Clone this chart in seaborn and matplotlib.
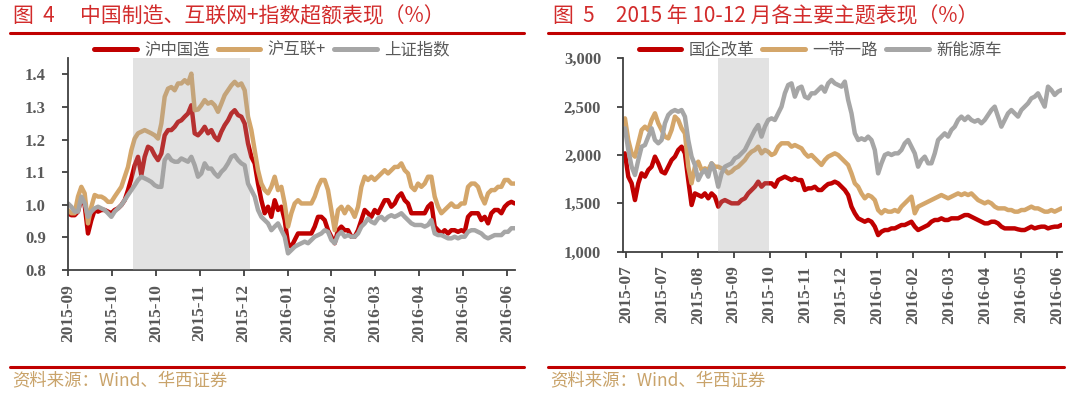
import numpy as np
import pandas as pd
import matplotlib
matplotlib.use("Agg")
import matplotlib.pyplot as plt
import seaborn as sns
from matplotlib.lines import Line2D
from matplotlib.ticker import FuncFormatter

# ── data ───────────────────────────────────────────────────────────────
FIG4_TICKS = ["2015-09", "2015-10", "2015-10", "2015-11", "2015-12", "2016-01",
              "2016-02", "2016-03", "2016-04", "2016-05", "2016-06"]
FIG5_TICKS = ["2015-07", "2015-07", "2015-08", "2015-09", "2015-10", "2015-11", "2015-12",
              "2016-01", "2016-02", "2016-03", "2016-04", "2016-05", "2016-06"]

# 图4 (daily, 2015-09 .. 2016-06)
HU_ZGZ = [0.974, 0.968, 0.968, 0.979, 1.019, 0.999, 0.912, 0.953, 0.984, 0.979,
          0.984, 0.984, 0.979, 0.974, 0.984, 0.989, 0.999, 1.014, 1.045, 1.081,
          1.121, 1.147, 1.091, 1.147, 1.178, 1.172, 1.152, 1.137, 1.157, 1.213,
          1.229, 1.229, 1.239, 1.254, 1.259, 1.270, 1.280, 1.305, 1.219, 1.213,
          1.224, 1.239, 1.219, 1.229, 1.208, 1.198, 1.224, 1.244, 1.259, 1.280,
          1.290, 1.275,
          1.270, 1.249, 1.188, 1.147, 1.127, 1.065, 1.014, 0.974, 0.994, 0.963,
          1.014, 0.984, 0.994, 0.953, 0.882, 0.871, 0.892, 0.912, 0.912, 0.912,
          0.912, 0.912, 0.933, 0.963, 0.963, 0.953, 0.922, 0.902, 0.882, 0.922,
          0.933, 0.922, 0.922, 0.902, 0.902, 0.922, 0.953, 0.984, 0.974, 0.963,
          0.984, 0.974, 0.994, 1.014, 1.014, 0.994, 1.004, 1.025, 1.035, 1.014,
          1.004, 0.974, 0.974, 0.974, 0.974, 0.974, 0.994, 1.004, 0.933, 0.922,
          0.912, 0.922, 0.912, 0.922, 0.922, 0.917, 0.922, 0.917, 0.963, 0.974,
          0.974, 0.974, 0.953, 0.963, 0.943, 0.974, 0.984, 0.984, 0.974, 0.994,
          1.004, 1.009, 1.004]
HU_HLW = [0.984, 0.974, 0.974, 1.025, 1.055, 1.035, 0.943, 0.994, 1.030, 1.025,
          1.025, 1.019, 1.009, 1.009, 1.025, 1.040, 1.055, 1.086, 1.116, 1.167,
          1.203, 1.219, 1.224, 1.229, 1.224, 1.219, 1.213, 1.203, 1.249, 1.331,
          1.356, 1.361, 1.351, 1.372, 1.372, 1.382, 1.372, 1.402, 1.290, 1.292,
          1.305, 1.321, 1.310, 1.315, 1.305, 1.285, 1.310, 1.336, 1.351, 1.366,
          1.377, 1.366,
          1.372, 1.351, 1.270, 1.229, 1.167, 1.106, 1.065, 1.045, 1.035, 1.055,
          1.086, 1.045, 1.055, 1.004, 0.933, 0.974, 1.004, 1.014, 1.004, 1.004,
          1.004, 1.004, 1.025, 1.055, 1.076, 1.076, 1.045, 0.984, 0.922, 0.984,
          0.994, 0.974, 0.994, 0.984, 0.963, 0.994, 1.055, 1.086, 1.076, 1.086,
          1.076, 1.086, 1.096, 1.106, 1.096, 1.106, 1.116, 1.116, 1.127, 1.106,
          1.096, 1.055, 1.045, 1.065, 1.055, 1.065, 1.086, 1.086, 1.025, 0.994,
          0.974, 0.984, 0.994, 1.004, 0.994, 0.994, 1.004, 1.004, 1.055, 1.065,
          1.065, 1.055, 1.025, 1.004, 1.035, 1.045, 1.045, 1.055, 1.055, 1.076,
          1.076, 1.065, 1.065]
SH_IDX = [1.004, 0.994, 0.979, 0.979, 1.025, 1.004, 0.963, 0.979, 0.989, 0.994,
          0.989, 0.984, 0.974, 0.963, 0.979, 0.989, 0.999, 1.014, 1.030, 1.045,
          1.060, 1.076, 1.086, 1.081, 1.076, 1.070, 1.060, 1.055, 1.055, 1.137,
          1.152, 1.137, 1.132, 1.132, 1.142, 1.137, 1.132, 1.147, 1.121, 1.086,
          1.096, 1.127, 1.111, 1.111, 1.096, 1.086, 1.101, 1.111, 1.127, 1.147,
          1.152, 1.137,
          1.127, 1.121, 1.065, 1.045, 1.025, 0.984, 0.963, 0.953, 0.943, 0.922,
          0.933, 0.943, 0.922, 0.902, 0.851, 0.861, 0.871, 0.877, 0.882, 0.887,
          0.882, 0.892, 0.902, 0.907, 0.912, 0.922, 0.917, 0.892, 0.882, 0.907,
          0.917, 0.902, 0.907, 0.902, 0.902, 0.912, 0.933, 0.943, 0.958, 0.948,
          0.943, 0.958, 0.963, 0.953, 0.963, 0.968, 0.963, 0.968, 0.974, 0.963,
          0.953, 0.943, 0.938, 0.938, 0.938, 0.933, 0.938, 0.953, 0.912, 0.907,
          0.907, 0.902, 0.897, 0.897, 0.902, 0.897, 0.902, 0.902, 0.917, 0.922,
          0.922, 0.917, 0.912, 0.902, 0.897, 0.902, 0.907, 0.907, 0.907, 0.917,
          0.917, 0.928, 0.928]

# 图5 (daily, 2015-07 .. 2016-06)
GQGG = [2017, 1776, 1707, 1534, 1707, 1810, 1776, 1845, 1879, 1983,
        1914, 1828, 1810, 1879, 1948, 1983, 2052, 2086, 2017, 1741,
        1483, 1603, 1586, 1569, 1603, 1552, 1603, 1569, 1466, 1517,
        1534, 1517, 1500, 1500, 1500, 1534, 1552, 1603, 1638, 1672,
        1724, 1672, 1707, 1707, 1707, 1672, 1741, 1759, 1776, 1759,
        1741, 1759, 1741,
        1741, 1638, 1655, 1655, 1672, 1638, 1638, 1672, 1700, 1707,
        1724, 1707, 1672, 1638, 1586, 1466, 1397, 1345, 1328, 1310,
        1328, 1310, 1259, 1172, 1207, 1224, 1224, 1241, 1241, 1259,
        1276, 1276, 1293, 1310, 1259, 1224, 1241, 1259, 1276, 1310,
        1328, 1328, 1345, 1328, 1328, 1345, 1345, 1345, 1362, 1379,
        1379, 1362, 1345, 1328, 1310, 1293, 1293, 1310, 1310, 1293,
        1259, 1241, 1241, 1241, 1241, 1231, 1224, 1224, 1241, 1259,
        1241, 1252, 1259, 1259, 1241, 1252, 1259, 1259, 1276]
YDYL = [2379, 2155, 2017, 1983, 2121, 2259, 2293, 2259, 2362, 2431,
        2328, 2259, 2190, 2172, 2259, 2397, 2362, 2276, 2224, 1879,
        1707, 1879, 1931, 1845, 1862, 1845, 1914, 1879, 1879, 1862,
        1845, 1810, 1828, 1862, 1879, 1914, 1948, 2000, 2034, 2052,
        2086, 2017, 2052, 2034, 2000, 2017, 2086, 2121, 2121, 2121,
        2086, 2103, 2086,
        2069, 2017, 1983, 2000, 1966, 1931, 1897, 1948, 1983, 2000,
        2017, 2000, 1966, 1931, 1897, 1810, 1707, 1672, 1603, 1552,
        1586, 1569, 1534, 1431, 1397, 1431, 1414, 1414, 1431, 1414,
        1466, 1500, 1534, 1569, 1397, 1466, 1483, 1500, 1517, 1534,
        1552, 1569, 1586, 1569, 1552, 1569, 1586, 1603, 1586, 1603,
        1586, 1603, 1569, 1534, 1517, 1500, 1517, 1500, 1466, 1448,
        1448, 1448, 1431, 1431, 1414, 1414, 1431, 1431, 1448, 1466,
        1448, 1448, 1431, 1414, 1414, 1431, 1414, 1431, 1448]
XNYC = [2276, 2052, 1879, 1793, 1948, 2086, 2103, 2190, 2276, 2155,
        2121, 2155, 2328, 2414, 2448, 2465, 2448, 2465, 2397, 2155,
        1983, 1897, 1741, 1810, 1845, 1776, 1914, 1828, 1672, 1810,
        1879, 1897, 1914, 1966, 1983, 2017, 2052, 2121, 2190, 2259,
        2310, 2190, 2293, 2362, 2379, 2362, 2431, 2500, 2638, 2724,
        2741, 2603, 2690,
        2707, 2603, 2586, 2638, 2638, 2672, 2707, 2655, 2741, 2776,
        2741, 2724, 2707, 2759, 2569, 2431, 2224, 2155, 2172, 2155,
        2190, 2155, 2052, 1810, 1914, 2000, 2017, 2000, 2017, 2017,
        2052, 2121, 2155, 2086, 2017, 1879, 1948, 1983, 1914, 1914,
        2017, 2155, 2190, 2224, 2190, 2259, 2293, 2362, 2397, 2362,
        2397, 2362, 2345, 2362, 2328, 2362, 2414, 2465, 2500, 2397,
        2293, 2362, 2431, 2465, 2431, 2397, 2465, 2500, 2534, 2586,
        2603, 2638, 2569, 2500, 2707, 2672, 2621, 2655, 2672]

# shaded windows, in trading-day index
FIG4_SHADE = (19.5, 54.5)
FIG5_SHADE = (28.0, 43.3)

assert len(HU_ZGZ) == len(HU_HLW) == len(SH_IDX)
assert len(GQGG) == len(YDYL) == len(XNYC)

RED = "#C00000"; TAN = "#D4A66A"; GRAY = "#A6A6A6"
TXT = "#595959"; AXC = "#404040"; TITLE_RED = "#D22B2B"; SRC = "#C9A36A"
CJK = ["Noto Sans CJK SC", "DejaVu Sans"]

sns.set_theme(style="white")
plt.rcParams["font.family"] = CJK

W, H = 1080, 394
fig = plt.figure(figsize=(W / 100, H / 100), dpi=100)
fig.patch.set_facecolor("white")


def px(x0, y_top, x1, y_bot):
    return [x0 / W, 1 - y_bot / H, (x1 - x0) / W, (y_bot - y_top) / H]


def long_frame(cols):
    df = pd.DataFrame(cols)
    df["day"] = np.arange(len(df))
    return df.melt(id_vars="day", var_name="series", value_name="value")


def style_axes(ax, ticks, labels):
    for side in ("top", "right"):
        ax.spines[side].set_visible(False)
    for side in ("left", "bottom"):
        ax.spines[side].set_color(AXC)
        ax.spines[side].set_linewidth(1.3)
    ax.set_xticks(ticks)
    ax.set_xticklabels(labels, rotation=90)
    ax.tick_params(axis="both", direction="out", length=4, width=1.3, color=AXC,
                   labelcolor=TXT, bottom=True, left=True)
    ax.tick_params(axis="y", pad=12)
    ax.tick_params(axis="x", pad=6)
    for t in ax.get_yticklabels():
        t.set_fontfamily("Liberation Serif"); t.set_fontweight("bold"); t.set_fontsize(12)
    for t in ax.get_xticklabels():
        t.set_fontfamily("Liberation Serif"); t.set_fontweight("bold"); t.set_fontsize(12.5)
    ax.set_xlabel(""); ax.set_ylabel("")
    ax.grid(False)


# ── 图4 ───────────────────────────────────────────────────────────────
ax1 = fig.add_axes(px(68, 58, 514.7, 270))
d4 = long_frame({"沪中国造": HU_ZGZ, "沪互联+": HU_HLW, "上证指数": SH_IDX})
sns.lineplot(data=d4, x="day", y="value", hue="series", estimator=None, sort=False,
             palette=[RED, TAN, GRAY], linewidth=3.2, ax=ax1)
ax1.axvspan(*FIG4_SHADE, color="#A0A0A0", alpha=0.3, lw=0, zorder=5)
ax1.set_xlim(0, len(HU_ZGZ) - 1)
ax1.set_ylim(0.8, 1.45)
ax1.set_yticks(np.arange(0.8, 1.41, 0.1))
ax1.yaxis.set_major_formatter(FuncFormatter(lambda v, _: f"{v:.1f}"))
h1, l1 = ax1.get_legend_handles_labels()
ax1.get_legend().remove()
style_axes(ax1, np.arange(len(FIG4_TICKS)) * 13.17, FIG4_TICKS)

# ── 图5 ───────────────────────────────────────────────────────────────
ax2 = fig.add_axes(px(623.3, 58.3, 1062, 251.7))
d5 = long_frame({"国企改革": GQGG, "一带一路": YDYL, "新能源车": XNYC})
sns.lineplot(data=d5, x="day", y="value", hue="series", estimator=None, sort=False,
             palette=[RED, TAN, GRAY], linewidth=3.2, ax=ax2)
ax2.axvspan(*FIG5_SHADE, color="#A0A0A0", alpha=0.3, lw=0, zorder=5)
ax2.set_xlim(-0.5, len(GQGG) - 0.8)
ax2.set_ylim(1000, 3000)
ax2.set_yticks(np.arange(1000, 3001, 500))
ax2.yaxis.set_major_formatter(FuncFormatter(lambda v, _: f"{v:,.0f}"))
h2, l2 = ax2.get_legend_handles_labels()
ax2.get_legend().remove()
style_axes(ax2, 0.3 + np.arange(len(FIG5_TICKS)) * 10.78, FIG5_TICKS)

# ── legends ───────────────────────────────────────────────────────────
for handles, labels, cx in ((h1, l1, 272), (h2, l2, 820)):
    for h in handles:
        h.set_linewidth(3.6)
    fig.legend(handles, labels, loc="center", bbox_to_anchor=(cx / W, 1 - 50 / H),
               ncol=3, frameon=False, handlelength=2.6,
               handletextpad=0.45, columnspacing=0.5, labelcolor=TXT,
               prop={"family": CJK, "size": 11.8})

# ── titles, rules, source ─────────────────────────────────────────────
ty = 1 - 16 / H
fig.text(13 / W, ty, "图  4", color=TITLE_RED, fontsize=15, va="center")
fig.text(80 / W, ty, "中国制造、互联网+指数超额表现（%）", color=TITLE_RED, fontsize=15, va="center")
fig.text(553 / W, ty, "图  5", color=TITLE_RED, fontsize=15, va="center")
fig.text(616 / W, ty, "2015 年 10-12 月各主要主题表现（%）", color=TITLE_RED, fontsize=15, va="center")

for x0, x1 in ((10, 524), (548, 1064)):
    for yy in (33, 367):
        fig.add_artist(Line2D([x0 / W, x1 / W], [1 - yy / H] * 2, color=RED, lw=2.2))
    fig.text((x0 + 2) / W, 1 - 380 / H, "资料来源：Wind、华西证券", color=SRC,
             fontsize=12.5, va="center")

fig.savefig("out.png", dpi=100, facecolor="white")
